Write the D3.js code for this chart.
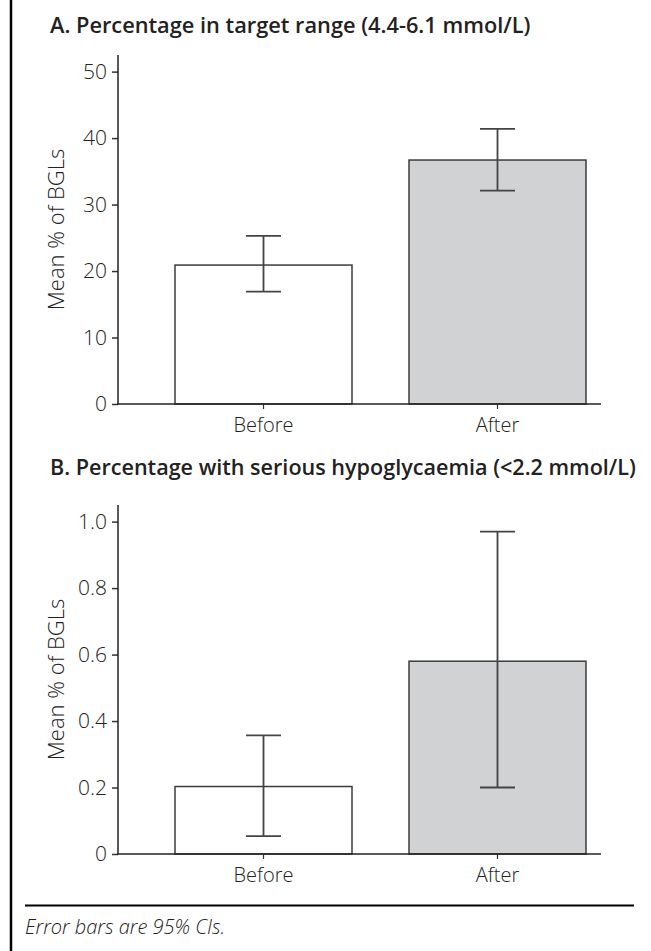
<!DOCTYPE html>
<html>
<head>
<meta charset="utf-8">
<script src="https://cdn.jsdelivr.net/npm/d3@7"></script>
<style>
  html, body { margin: 0; padding: 0; background: #fff; }
  svg { display: block; }
  text { font-family: "Open Sans", "Noto Sans", sans-serif; fill: #2a2a2a; }
</style>
</head>
<body>
<svg id="chart" width="651" height="951"></svg>
<script>
'use strict';

// categories
var groups = ['Before', 'After'];
var barFills = ['#ffffff', '#d1d2d4'];

// panel A: % of BGLs in target range, with 95% CI
var inRangeMean = [20.9, 36.7];
var inRangeLow  = [16.9, 32.1];
var inRangeHigh = [25.3, 41.4];
var inRangeTicks = [0, 10, 20, 30, 40, 50];

// panel B: % of BGLs with serious hypoglycaemia, with 95% CI
var hypoMean = [0.203, 0.58];
var hypoLow  = [0.054, 0.20];
var hypoHigh = [0.357, 0.97];
var hypoTicks = [0, 0.2, 0.4, 0.6, 0.8, 1.0];

var font = '"Open Sans", "Noto Sans", sans-serif';
var svg = d3.select('#chart');

// frame: left rule + footer rule
svg.append('line')
    .attr('x1', 11).attr('x2', 11).attr('y1', 0).attr('y2', 951)
    .style('stroke', '#000').style('stroke-width', 2.5);
svg.append('line')
    .attr('x1', 25).attr('x2', 634).attr('y1', 905.5).attr('y2', 905.5)
    .style('stroke', '#000').style('stroke-width', 2);
svg.append('text')
    .attr('x', 25).attr('y', 934)
    .style('font-size', '20px').style('font-style', 'italic').style('font-weight', 300)
    .style('fill', '#222')
    .text('Error bars are 95% CIs.');

var x = d3.scaleBand()
    .domain(groups)
    .range([118, 643])
    .paddingInner(0.2436)
    .paddingOuter(0.2436);

function fitWidth(sel, target) {
  var w = sel.node().getComputedTextLength();
  var size = parseFloat(sel.style('font-size'));
  sel.style('font-size', (size * target / w) + 'px');
}

function drawPanel(opts) {
  var g = svg.append('g');

  var title = g.append('text')
      .attr('x', 50).attr('y', opts.titleY)
      .style('font-size', '19px').style('font-weight', 600)
      .style('fill', '#222')
      .text(opts.title);
  fitWidth(title, opts.titleWidth);

  var y = d3.scaleLinear()
      .domain([0, opts.max])
      .range([opts.bottom, opts.top]);

  var rows = groups.map(function(name, i) {
    return {name: name, mean: opts.mean[i], low: opts.low[i], high: opts.high[i], fill: barFills[i]};
  });

  g.selectAll('rect.bar')
      .data(rows)
    .enter().append('rect')
      .attr('class', 'bar')
      .attr('x', function(d) { return x(d.name); })
      .attr('y', function(d) { return y(d.mean); })
      .attr('width', x.bandwidth())
      .attr('height', function(d) { return y(0) - y(d.mean); })
      .style('fill', function(d) { return d.fill; })
      .style('stroke', '#3c3c3c')
      .style('stroke-width', 1.5);

  var err = g.selectAll('g.err')
      .data(rows)
    .enter().append('g')
      .attr('class', 'err')
      .attr('transform', function(d) { return 'translate(' + (x(d.name) + x.bandwidth() / 2) + ',0)'; })
      .style('stroke', '#444')
      .style('stroke-width', 1.8);
  err.append('line')
      .attr('y1', function(d) { return y(d.low); })
      .attr('y2', function(d) { return y(d.high); });
  err.append('line')
      .attr('x1', -17.5).attr('x2', 17.5)
      .attr('y1', function(d) { return y(d.low); })
      .attr('y2', function(d) { return y(d.low); });
  err.append('line')
      .attr('x1', -17.5).attr('x2', 17.5)
      .attr('y1', function(d) { return y(d.high); })
      .attr('y2', function(d) { return y(d.high); });

  // y axis
  var yAxis = g.append('g')
      .attr('transform', 'translate(118,0)')
      .call(d3.axisLeft(y).tickValues(opts.ticks).tickFormat(opts.format).tickSize(6).tickPadding(5).tickSizeOuter(0));
  yAxis.select('.domain').remove();
  yAxis.selectAll('.tick line').style('stroke', '#333').style('stroke-width', 1.5);
  yAxis.selectAll('.tick text')
      .style('font-family', font)
      .style('font-size', '21px').style('font-weight', 300).style('fill', '#222');
  g.append('line')
      .attr('x1', 118).attr('x2', 118)
      .attr('y1', y(0)).attr('y2', opts.top)
      .style('stroke', '#222').style('stroke-width', 1.5);

  // x axis
  var xAxis = g.append('g')
      .attr('transform', 'translate(0,' + y(0) + ')')
      .call(d3.axisBottom(x).tickSize(5).tickPadding(9).tickSizeOuter(0));
  xAxis.select('.domain').remove();
  xAxis.selectAll('.tick line').style('stroke', '#333').style('stroke-width', 1.2);
  xAxis.selectAll('.tick text')
      .style('font-family', font)
      .style('font-size', '20px').style('font-weight', 300).style('fill', '#222');
  g.append('line')
      .attr('x1', 117).attr('x2', 601)
      .attr('y1', y(0)).attr('y2', y(0))
      .style('stroke', '#222').style('stroke-width', 1.5);

  g.append('text')
      .attr('transform', 'translate(64,' + (opts.top + opts.bottom) / 2 + ') rotate(-90)')
      .attr('text-anchor', 'middle')
      .style('font-size', '22px').style('font-weight', 300)
      .style('fill', '#222')
      .text('Mean % of BGLs');
}

drawPanel({
  title: 'A. Percentage in target range (4.4-6.1 mmol/L)',
  titleY: 33, titleWidth: 481,
  top: 55, bottom: 404, max: 52.5,
  mean: inRangeMean, low: inRangeLow, high: inRangeHigh,
  ticks: inRangeTicks,
  format: d3.format('d')
});

drawPanel({
  title: 'B. Percentage with serious hypoglycaemia (<2.2 mmol/L)',
  titleY: 475, titleWidth: 586,
  top: 505, bottom: 854, max: 1.05,
  mean: hypoMean, low: hypoLow, high: hypoHigh,
  ticks: hypoTicks,
  format: function(d) { return d === 0 ? '0' : d3.format('.1f')(d); }
});
</script>
</body>
</html>
